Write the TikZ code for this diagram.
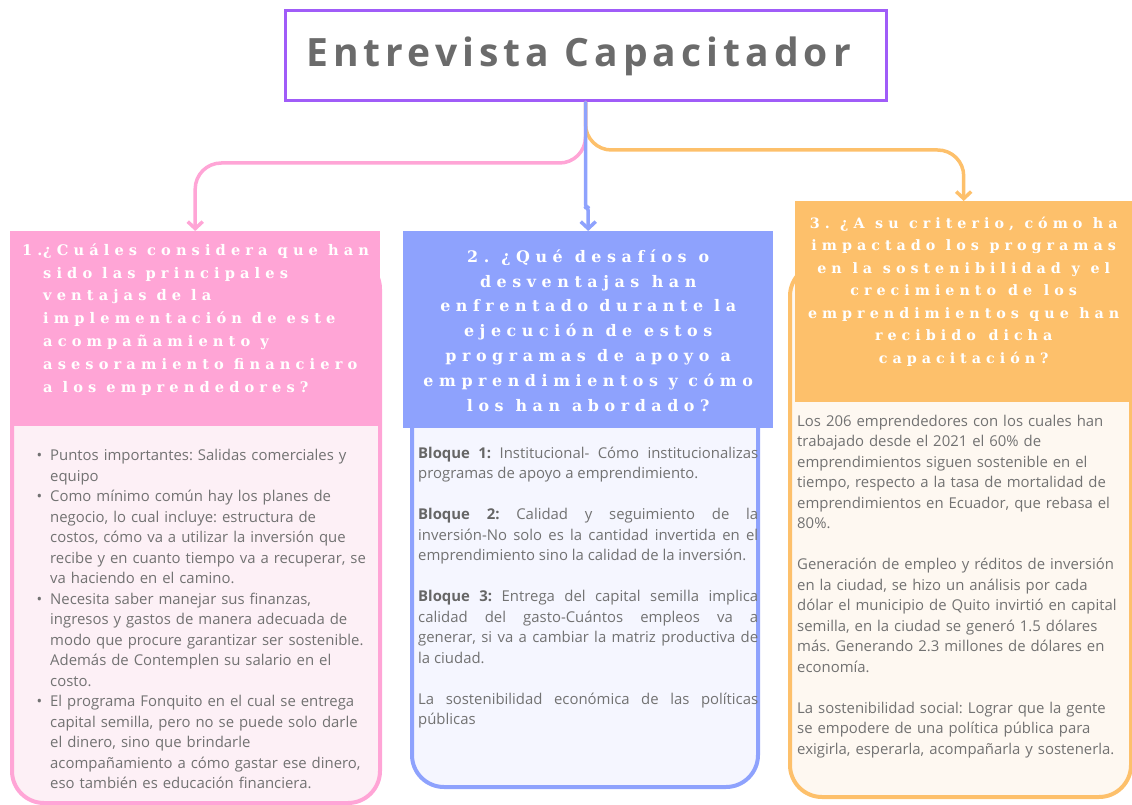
\documentclass[tikz,border=0pt]{standalone}
\usepackage{fontspec}
\setmainfont{Open Sans}
\newfontfamily\titlefont[LetterSpace=13]{Open Sans}
\newfontfamily\qfont[LetterSpace=35]{DejaVu Serif}
\usepackage{enumitem}
\usetikzlibrary{arrows.meta,positioning}

\definecolor{titleline}{HTML}{A05CF8}
\definecolor{titlegray}{HTML}{6B6B6B}
\definecolor{textgray}{HTML}{727272}
\definecolor{boldgray}{HTML}{666666}
\definecolor{pinkq}{HTML}{FFA5D6}
\definecolor{pinkbg}{HTML}{FDF0F6}
\definecolor{blueq}{HTML}{8EA2FD}
\definecolor{bluebg}{HTML}{F5F6FF}
\definecolor{orangeq}{HTML}{FDC06B}
\definecolor{orangebg}{HTML}{FEF8F1}

% invisible struts that set the padding above the first and below the last line
% (the top one also fixes the word gaps of the letter-spaced questions)
\newcommand{\toppad}[1]{\spaceskip=10pt plus 1pt\relax\rule{0pt}{#1}}
\newcommand{\botpad}[1]{\rule[-#1]{0pt}{#1}}

\frenchspacing
\begin{document}
\begin{tikzpicture}[x=1pt,y=-1pt,
    link/.style={line width=3.5pt,line cap=round,line join=round,
      -{Straight Barb[length=7pt,width=15pt]}},
    frame/.style={rectangle,rounded corners=32pt,line width=4pt,inner sep=0pt,
      anchor=north west},
    question/.style={rectangle,inner xsep=2pt,inner ysep=0pt,anchor=north west,
      text=white},
    answer/.style={inner sep=0pt,anchor=base west,text=textgray,
      font=\fontsize{14.9}{20.5}\selectfont}]
  \useasboundingbox (0,0) rectangle (1132,805);

  % The title
  \node (title) [draw=titleline,line width=3pt,fill=white,anchor=north west,
    minimum width=601pt,minimum height=90pt,text=titlegray,
    font=\titlefont\bfseries\fontsize{39}{39}\selectfont]
    at (283.5,9.5) {Entrevista Capacitador\hspace*{14pt}};

  % Frames behind the three columns
  \node (f1) [frame,draw=pinkq,fill=pinkbg,minimum width=368pt,minimum height=546pt] at (10,255) {};
  \node (f2) [frame,draw=blueq,fill=bluebg,minimum width=346pt,minimum height=545pt] at (410,240) {};
  \node (f3) [frame,draw=orangeq,fill=orangebg,minimum width=341pt,minimum height=533pt] at (788,262) {};

  % Question 1
  \node (q1) [question,fill=pinkq,minimum width=370pt,text width=366pt,align=left,
    font=\qfont\bfseries\fontsize{14.6}{22.83}\selectfont] at (10,231)
    {\toppad{24pt}\hspace*{10pt}\makebox[21pt][l]{1.}¿Cuáles considera que han\\
     \hspace*{31pt}sido las principales\\
     \hspace*{31pt}ventajas de la\\
     \hspace*{31pt}implementación de este\\
     \hspace*{31pt}acompañamiento y\\
     \hspace*{31pt}asesoramiento financiero\\
     \hspace*{31pt}a los emprendedores?\botpad{34pt}};

  % Question 2
  \node (q2) [question,fill=blueq,minimum width=370pt,text width=366pt,align=center,
    font=\qfont\bfseries\fontsize{15.9}{24.83}\selectfont] at (403,231)
    {\toppad{31pt}2. ¿Qué desafíos o\\
     desventajas han\\
     enfrentado durante la\\
     ejecución de estos\\
     programas de apoyo a\\
     emprendimientos y cómo\\
     los han abordado?\botpad{17pt}};

  % Question 3
  \node (q3) [question,fill=orangeq,minimum width=337pt,text width=335pt,inner xsep=1pt,align=center,
    font=\qfont\bfseries\fontsize{14.3}{22.5}\selectfont] at (795,201)
    {\toppad{27pt}3. ¿A su criterio, cómo ha\\
     impactado los programas\\
     en la sostenibilidad y el\\
     crecimiento de los\\
     emprendimientos que han\\
     recibido dicha\\
     capacitación?\botpad{39pt}};

  % Answer 1
  \node (a1) [answer,text width=340pt,align=left] at (36,440)
    {\begin{itemize}[leftmargin=14pt,labelsep=8pt,itemsep=0pt,topsep=0pt,parsep=0pt,partopsep=0pt]
     \item Puntos importantes: Salidas comerciales y\newline equipo
     \item Como mínimo común hay los planes de\newline
       negocio, lo cual incluye: estructura de\newline
       costos, cómo va a utilizar la inversión que\newline
       recibe y en cuanto tiempo va a recuperar, se\newline
       va haciendo en el camino.
     \item Necesita saber manejar sus finanzas,\newline
       ingresos y gastos de manera adecuada de\newline
       modo que procure garantizar ser sostenible.\newline
       Además de Contemplen su salario en el\newline
       costo.
     \item El programa Fonquito en el cual se entrega\newline
       capital semilla, pero no se puede solo darle\newline
       el dinero, sino que brindarle\newline
       acompañamiento a cómo gastar ese dinero,\newline
       eso también es educación financiera.
     \end{itemize}};

  % Answer 2
  \node (a2) [answer,text width=340pt,align=justify] at (418,458)
    {\setlength{\parskip}{20.5pt}%
     \textcolor{boldgray}{\textbf{Bloque 1:}} Institucional- Cómo institucionalizas\linebreak
     programas de apoyo a emprendimiento.\par
     \textcolor{boldgray}{\textbf{Bloque 2:}} Calidad y seguimiento de la\linebreak
     inversión-No solo es la cantidad invertida en el\linebreak
     emprendimiento sino la calidad de la inversión.\par
     \textcolor{boldgray}{\textbf{Bloque 3:}} Entrega del capital semilla implica\linebreak
     calidad del gasto-Cuántos empleos va a\linebreak
     generar, si va a cambiar la matriz productiva de\linebreak
     la ciudad.\par
     La sostenibilidad económica de las políticas\linebreak
     públicas};

  % Answer 3
  \node (a3) [answer,text width=330pt,align=left] at (797,426)
    {Los 206 emprendedores con los cuales han\\
     trabajado desde el 2021 el 60\% de\\
     emprendimientos siguen sostenible en el\\
     tiempo, respecto a la tasa de mortalidad de\\
     emprendimientos en Ecuador, que rebasa el\\
     80\%.\\[20.5pt]
     Generación de empleo y réditos de inversión\\
     en la ciudad, se hizo un análisis por cada\\
     dólar el municipio de Quito invirtió en capital\\
     semilla, en la ciudad se generó 1.5 dólares\\
     más. Generando 2.3 millones de dólares en\\
     economía.\\[20.5pt]
     La sostenibilidad social: Lograr que la gente\\
     se empodere de una política pública para\\
     exigirla, esperarla, acompañarla y sostenerla.};

  % Connectors from the title to the questions
  \draw [link,draw=pinkq,rounded corners=26pt] (title.south) |- ([yshift=68pt]q1.north) -- (q1.north);
  \draw [link,draw=orangeq,rounded corners=26pt] (title.south) |- ([yshift=51pt]q3.north) -- (q3.north);
  \draw [link,draw=blueq,rounded corners=3pt] (title.south) -- ++(0,105) -| (q2.north);
\end{tikzpicture}
\end{document}
